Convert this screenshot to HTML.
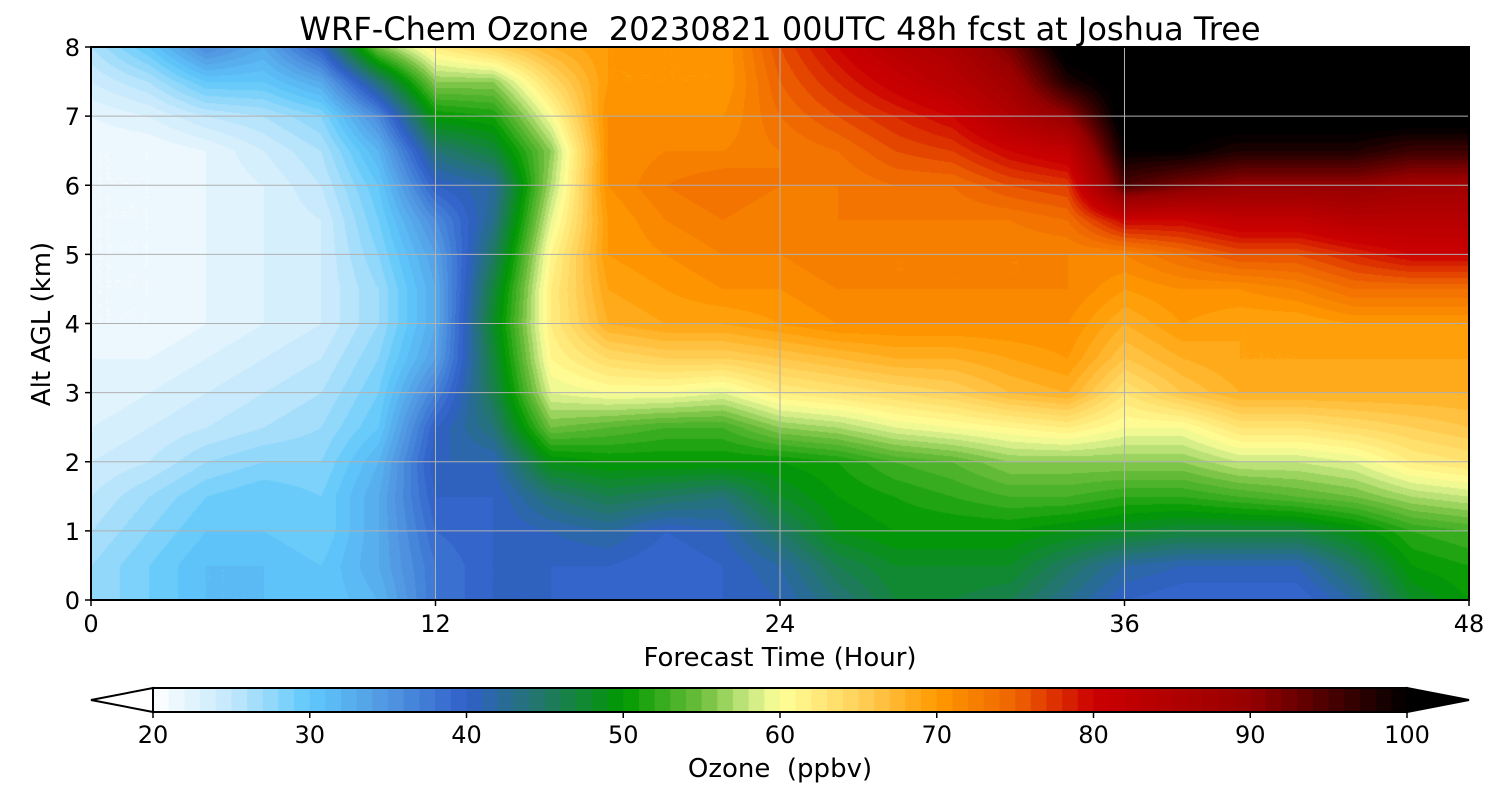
<!DOCTYPE html>
<html><head><meta charset="utf-8">
<style>
body{margin:0;background:#fff;width:1500px;height:800px;overflow:hidden;font-family:"DejaVu Sans","Liberation Sans",sans-serif;}
#wrap{position:relative;width:1500px;height:800px;}
canvas{position:absolute;left:91px;top:47px;}
svg{position:absolute;left:0;top:0;}
text{font-family:"DejaVu Sans","Liberation Sans",sans-serif;fill:#000;white-space:pre;}
</style></head>
<body>
<div id="wrap">
<canvas id="cv" width="1378" height="553"></canvas>
<svg id="sv" width="1500" height="800"></svg>
</div>
<script>
// forecast hours (columns) and altitudes (rows)
const hours = [0,2,4,6,8,10,12,14,16,18,20,22,24,26,28,30,32,34,36,38,40,42,44,46,48];
const alts = [0,0.5,1,1.5,2,2.5,3,3.5,4,4.5,5,5.5,6,6.5,7,7.5,8];
// ozone (ppbv) per hour column, bottom to top
const h0  = [27,27,26,25,24,23,22,22,21,21,21,21,21,21,22,24,26];
const h2  = [29,29,28,27,25,24,23,22,21,21,21,21,21,21,23,26,30];
const h4  = [31,31,30,29,27,25,24,23,22,22,22,22,22,22,25,30,36];
const h6  = [31,31,30,30,28,26,25,24,23,23,23,23,23,24,26,30,33];
const h8  = [30,30,29,29,28,27,26,25,24,24,24,24,25,26,28,33,40];
const h10 = [32,33,33,33,32,30,29,28,27,27,28,29,30,32,36,44,55];
const h12 = [38,38,39,40,41,40,37,34,33,33,34,36,40,44,50,56,62];
const h14 = [40,40,40,40,41,44,46,47,48,47,45,43,42,47,51,56,65];
const h16 = [40,40,41,44,49,55,59,61,62,62,61,59,57,56,60,64,68];
const h18 = [39,40,42,46,50,54,60,64,68,69,70,70,71,71,71,70,70];
const h20 = [39,39,40,45,50,53,60,65,69,70,71,72,73,72,71,70,70];
const h22 = [40,40,41,44,50,53,59,65,69,71,72,73,74,72,71,70,70];
const h24 = [41,42,45,48,50,56,62,66,70,71,72,72,73,73,74,75,76];
const h26 = [44,46,49,50,51,57,63,67,71,72,73,73,73,74,76,78,80];
const h28 = [47,48,50,51,53,59,64,68,71,72,72,73,74,76,78,81,84];
const h30 = [47,48,50,52,54,60,65,68,71,72,72,73,74,77,80,84,86];
const h32 = [46,48,50,53,56,61,67,69,71,72,72,73,76,80,85,88,92];
const h34 = [43,45,49,53,56,62,68,70,71,72,72,74,77,82,90,98,102];
const h36 = [40,42,48,52,56,60,63,66,68,70,72,80,95,100,102,102,102];
const h38 = [39,41,47,52,56,60,66,68,70,71,74,80,92,100,102,102,102];
const h40 = [39,41,47,53,58,63,68,69,69,71,76,82,90,98,102,102,102];
const h42 = [39,41,47,54,58,63,68,69,69,72,76,82,90,98,102,102,102];
const h44 = [42,45,49,55,59,64,68,69,70,74,78,84,90,98,102,102,102];
const h46 = [48,50,52,57,62,65,68,69,70,74,80,84,88,96,102,102,102];
const h48 = [50,51,53,58,63,66,68,69,70,74,80,84,88,96,102,102,102];
const columns = [h0,h2,h4,h6,h8,h10,h12,h14,h16,h18,h20,h22,h24,h26,h28,h30,h32,h34,h36,h38,h40,h42,h44,h46,h48];
const xTicks = [0,12,24,36,48];
const yTicks = [0,1,2,3,4,5,6,7,8];
const cbTicks = [20,30,40,50,60,70,80,90,100];

const PL=91,PT=47,PW=1378,PH=553;
const xS = h => PL + h/48*PW;
const yS = a => PT + PH - a/8*PH;

const stops=[[20,[255,255,255]],[25,[195,232,252]],[30,[95,200,250]],[35,[80,150,225]],[40,[48,96,200]],[45,[32,120,100]],[50,[0,153,0]],[55,[110,190,60]],[58,[200,232,130]],[60,[255,255,153]],[65,[255,210,90]],[70,[255,153,0]],[75,[238,100,0]],[80,[204,0,0]],[90,[150,0,0]],[100,[0,0,0]]];
function cmap(v){
  if(v<=20) return stops[0][1];
  if(v>=100) return stops[stops.length-1][1];
  for(let i=0;i<stops.length-1;i++){
    const [a,ca]=stops[i],[b,cb]=stops[i+1];
    if(v>=a&&v<=b){const t=(v-a)/(b-a);return ca.map((c,k)=>Math.round(c+(cb[k]-c)*t));}
  }
}
function val(h,a){
  let i=Math.min(hours.length-2,Math.max(0,Math.floor(h/2)));
  let j=Math.min(alts.length-2,Math.max(0,Math.floor(a/0.5)));
  const tx=(h-hours[i])/(hours[i+1]-hours[i]), ty=(a-alts[j])/(alts[j+1]-alts[j]);
  const v00=columns[i][j],v10=columns[i+1][j],v01=columns[i][j+1],v11=columns[i+1][j+1];
  return v00*(1-tx)*(1-ty)+v10*tx*(1-ty)+v01*(1-tx)*ty+v11*tx*ty;
}
const ctx=document.getElementById('cv').getContext('2d');
const img=ctx.createImageData(PW,PH);
for(let y=0;y<PH;y++){
  const a=(PH-y)/PH*8;
  for(let x=0;x<PW;x++){
    const h=x/PW*48;
    let v=Math.floor(val(h,a));
    const c=cmap(v+0.5);
    const p=(y*PW+x)*4;
    img.data[p]=c[0];img.data[p+1]=c[1];img.data[p+2]=c[2];img.data[p+3]=255;
  }
}
ctx.putImageData(img,0,0);

const NS='http://www.w3.org/2000/svg';
const sv=document.getElementById('sv');
function mk(tag,attrs,txt){const e=document.createElementNS(NS,tag);for(const k in attrs)e.setAttribute(k,attrs[k]);if(txt!==undefined)e.textContent=txt;sv.appendChild(e);return e;}

xTicks.forEach(t=>{
  const e=mk('line',{x1:xS(t),x2:xS(t),y1:PT,y2:PT+PH,stroke:'#b0b0b0','stroke-width':1});
  
  
});
yTicks.forEach(t=>{
  const e=mk('line',{x1:PL,x2:PL+PW,y1:yS(t),y2:yS(t),stroke:'#b0b0b0','stroke-width':1});
  
  
});
const fr=mk('rect',{x:PL,y:PT,width:PW,height:PH,fill:'none',stroke:'#000','stroke-width':2});



xTicks.forEach(t=>{
  const l=mk('line',{x1:xS(t),x2:xS(t),y1:PT+PH,y2:PT+PH+6,stroke:'#000','stroke-width':1.5});
  
  
  const e=mk('text',{x:xS(t),y:632,'font-size':24,'text-anchor':'middle'},String(t));
  
  
});
yTicks.forEach(t=>{
  const l=mk('line',{x1:PL-6,x2:PL,y1:yS(t),y2:yS(t),stroke:'#000','stroke-width':1.5});
  
  
  const e=mk('text',{x:80,y:yS(t)+9,'font-size':24,'text-anchor':'end'},String(t));
  
  
});
let e;
e=mk('text',{x:780,y:40,'font-size':32,'text-anchor':'middle'},'WRF-Chem Ozone  20230821 00UTC 48h fcst at Joshua Tree');


e=mk('text',{x:780,y:666,'font-size':26,'text-anchor':'middle'},'Forecast Time (Hour)');


e=mk('text',{x:50,y:324,'font-size':26,'text-anchor':'middle',transform:'rotate(-90 50 324)'},'Alt AGL (km)');



const CB0=153,CB1=1407,CBT=688,CBB=712;
const cbX=v=>CB0+(v-20)/80*(CB1-CB0);
for(let v=20;v<100;v++){
  const c=cmap(v+0.5);
  const r=mk('rect',{x:cbX(v),y:CBT,width:cbX(v+1)-cbX(v)+0.6,height:CBB-CBT,fill:`rgb(${c[0]},${c[1]},${c[2]})`});
  
  
}
e=mk('polygon',{points:`${CB0},${CBT} 91,700 ${CB0},${CBB}`,fill:'#fff',stroke:'#000','stroke-width':2});


e=mk('polygon',{points:`${CB1},${CBT} 1469,700 ${CB1},${CBB}`,fill:'#000',stroke:'#000','stroke-width':2});


e=mk('rect',{x:CB0,y:CBT,width:CB1-CB0,height:CBB-CBT,fill:'none',stroke:'#000','stroke-width':2});


cbTicks.forEach(t=>{
  const l=mk('line',{x1:cbX(t),x2:cbX(t),y1:CBB,y2:CBB+6,stroke:'#000','stroke-width':1.5});
  
  
  const x=mk('text',{x:cbX(t),y:743,'font-size':24,'text-anchor':'middle'},String(t));
  
  
});
e=mk('text',{x:780,y:777,'font-size':26,'text-anchor':'middle'},'Ozone  (ppbv)');


</script>
</body></html>
